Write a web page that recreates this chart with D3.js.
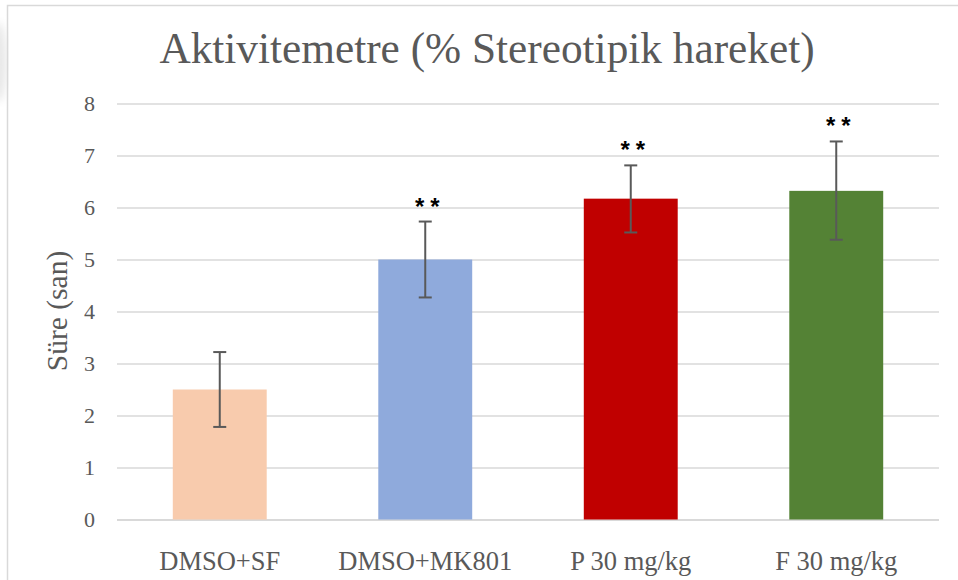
<!DOCTYPE html>
<html>
<head>
<meta charset="utf-8">
<script src="https://cdn.jsdelivr.net/npm/d3@7"></script>
<style>
  body { margin: 0; background: #ffffff; }
  svg { display: block; }
</style>
</head>
<body>
<svg></svg>
<script>
let categories = ['DMSO+SF', 'DMSO+MK801', 'P 30 mg/kg', 'F 30 mg/kg']
let means = [2.5, 5.0, 6.17, 6.32]
let errLow = [1.78, 4.27, 5.52, 5.38]
let errHigh = [3.22, 5.73, 6.81, 7.27]
let marks = ['', '**', '**', '**']
let barColors = ['#F8CBAD', '#8FAADC', '#C00000', '#548235']
let yTicks = [0, 1, 2, 3, 4, 5, 6, 7, 8]

let width = 958
let height = 580
let plotLeft = 117
let plotRight = 939
let plotTop = 103.5
let plotBottom = 519.5

let textColor = '#595959'
let gridColor = '#d9d9d9'
let serif = '"Liberation Serif", "Times New Roman", serif'

let svg = d3.select('svg').attr('width', width).attr('height', height)

let rows = categories.map((c, i) => ({
    cat: c, mean: means[i], lo: errLow[i], hi: errHigh[i], mark: marks[i], color: barColors[i]
}))

let xScale = d3.scaleBand()
    .domain(categories)
    .range([plotLeft, plotRight])
    .paddingInner(0.543)
    .paddingOuter(0.2715)

let yScale = d3.scaleLinear()
    .domain([0, 8])
    .range([plotBottom, plotTop])

// faint smudge + frame at the edge of the screenshot
let defs = svg.append('defs')
defs.append('filter').attr('id', 'blur')
    .append('feGaussianBlur').attr('stdDeviation', 4)
svg.append('ellipse')
    .attr('cx', -2).attr('cy', 62).attr('rx', 9).attr('ry', 40)
    .attr('fill', '#e8e8e8').attr('filter', 'url(#blur)')
svg.append('rect')
    .attr('x', 7.5).attr('y', 5.5)
    .attr('width', width + 10).attr('height', height + 10)
    .attr('fill', 'none').attr('stroke', gridColor).attr('stroke-width', 1.5)

// gridlines + y tick labels
let yAxis = d3.axisLeft(yScale)
    .tickValues(yTicks)
    .tickSize(-(plotRight - plotLeft))
    .tickPadding(22)
    .tickFormat(d3.format('d'))

let yG = svg.append('g')
    .attr('transform', 'translate(' + plotLeft + ',0)')
    .attr('font-family', serif)
    .call(yAxis)
yG.select('.domain').remove()
yG.selectAll('line').attr('stroke', gridColor).attr('stroke-width', (d) => d === 0 ? 1.8 : 1.4)
yG.selectAll('text')
    .attr('fill', textColor)
    .style('font-family', serif)
    .style('font-size', '22px')

// x axis labels
let xAxis = d3.axisBottom(xScale).tickSize(0).tickPadding(32)
let xG = svg.append('g')
    .attr('transform', 'translate(0,' + plotBottom + ')')
    .call(xAxis)
xG.select('.domain').remove()
xG.selectAll('text')
    .attr('fill', textColor)
    .style('font-family', serif)
    .style('font-size', '26.5px')

// bars
svg.selectAll('rect.bar')
    .data(rows)
    .enter()
    .append('rect')
    .attr('class', 'bar')
    .attr('x', (d) => xScale(d.cat))
    .attr('width', xScale.bandwidth())
    .attr('y', (d) => yScale(d.mean))
    .attr('height', (d) => yScale(0) - yScale(d.mean))
    .attr('fill', (d) => d.color)

// error bars
let cx = (d) => xScale(d.cat) + xScale.bandwidth() / 2
let cap = 6.5
let err = svg.selectAll('g.err')
    .data(rows)
    .enter()
    .append('g')
    .attr('class', 'err')
    .attr('stroke', '#595959')
    .attr('stroke-width', 2)
err.append('line')
    .attr('x1', cx).attr('x2', cx)
    .attr('y1', (d) => yScale(d.lo)).attr('y2', (d) => yScale(d.hi))
err.append('line')
    .attr('x1', (d) => cx(d) - cap).attr('x2', (d) => cx(d) + cap)
    .attr('y1', (d) => yScale(d.hi)).attr('y2', (d) => yScale(d.hi))
err.append('line')
    .attr('x1', (d) => cx(d) - cap).attr('x2', (d) => cx(d) + cap)
    .attr('y1', (d) => yScale(d.lo)).attr('y2', (d) => yScale(d.lo))

// significance marks
svg.selectAll('text.mark')
    .data(rows)
    .enter()
    .append('text')
    .attr('class', 'mark')
    .attr('x', (d) => cx(d) + 5)
    .attr('y', (d) => yScale(d.hi) - 7)
    .attr('text-anchor', 'middle')
    .style('font-family', '"Liberation Sans", Arial, sans-serif')
    .style('font-weight', 'bold')
    .style('font-size', '24px')
    .style('letter-spacing', '6px')
    .attr('fill', '#000')
    .text((d) => d.mark)

// title
svg.append('text')
    .attr('x', 487)
    .attr('y', 63)
    .attr('text-anchor', 'middle')
    .attr('fill', textColor)
    .style('font-family', serif)
    .style('font-size', '43.3px')
    .text('Aktivitemetre (% Stereotipik hareket)')

// y axis title
svg.append('text')
    .attr('transform', 'translate(67,' + 311 + ') rotate(-90)')
    .attr('text-anchor', 'middle')
    .attr('fill', textColor)
    .style('font-family', serif)
    .style('font-size', '29.5px')
    .text('Süre (san)')
</script>
</body>
</html>
